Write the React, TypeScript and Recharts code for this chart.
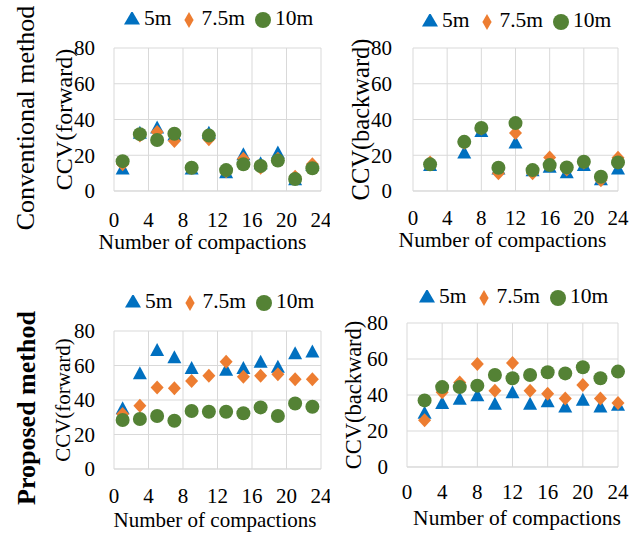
/** CCV vs number of compactions: conventional vs proposed method, forward and
 *  backward passes, three offsets (5m / 7.5m / 10m). Excel-like styling. */
import { CartesianGrid, Legend, Scatter, ScatterChart, XAxis, YAxis } from "recharts";

const SERIF = "Liberation Serif, Times New Roman, serif";
const BLUE = "#0070C0";
const ORANGE = "#ED7D31";
const GREEN = "#548235";
const GRID = "#D9D9D9";

const SERIES = ["5m", "7.5m", "10m"];
const X_TICKS = [0, 4, 8, 12, 16, 20, 24];
const Y_TICKS = [0, 20, 40, 60, 80];

// compaction numbers
const CONV_FWD_X = [1, 3, 5, 7, 9, 11, 13, 15, 17, 19, 21, 23];
const CONV_BWD_X = [2, 6, 8, 10, 12, 14, 16, 18, 20, 22, 24];
const PROP_FWD_X = [1, 3, 5, 7, 9, 11, 13, 15, 17, 19, 21, 23];
const PROP_BWD_X = [2, 4, 6, 8, 10, 12, 14, 16, 18, 20, 22, 24];

// conventional, forward
const CONV_FWD_5 = [12, 32, 35, 31, 12, 32, 10, 20, 15, 21, 6, 14];
const CONV_FWD_75 = [15, 31, 33, 28, 13, 29, 11, 18, 13, 18, 8, 15];
const CONV_FWD_10 = [16.7, 31.8, 28.5, 32, 13, 31, 11.7, 15, 14, 17, 6.7, 12.7];
// conventional, backward
const CONV_BWD_5 = [14, 21, 33, 12, 26.6, 11, 13, 10, 14, 6, 12];
const CONV_BWD_75 = [16, 27, 35, 10, 32.5, 10, 18.8, 12, 16, 6, 18.6];
const CONV_BWD_10 = [14.9, 27.5, 35.3, 13, 38, 11.7, 14.5, 13.2, 16.4, 8, 16];
// proposed, forward (5m at 11 is not visible)
const PROP_FWD_5 = [34.6, 54.9, 68.4, 64.2, 58, null, 57, 58, 61.6, 58.7, 66.5, 67.6];
const PROP_FWD_75 = [31.9, 36.7, 47.3, 46.8, 51, 54, 62.2, 53.5, 54, 54.9, 52, 52];
const PROP_FWD_10 = [28.4, 29, 30.7, 28, 33.6, 33.2, 33.2, 32.3, 35.7, 30.7, 38, 36.1];
// proposed, backward
const PROP_BWD_5 = [29.6, 35, 37.4, 39.3, 34.6, 41, 34.6, 36, 33, 36.8, 33, 34];
const PROP_BWD_75 = [26, 41.5, 47, 57.2, 42.4, 57.8, 42.4, 40.7, 38, 45.5, 38, 35.5];
const PROP_BWD_10 = [37, 44.4, 44.4, 45.2, 51.1, 49.3, 51.1, 52.6, 52, 55.4, 49.3, 53];

const pts = (xs: number[], ys: (number | null)[]) =>
  xs.map((x, i) => ({ x, y: ys[i] })).filter((p) => p.y != null);

const Tri = (p: any) => (
  <path d={`M${p.cx},${p.cy - 8} L${p.cx + 7},${p.cy + 5} L${p.cx - 7},${p.cy + 5} Z`} fill={BLUE} />
);
const Dia = (p: any) => (
  <path d={`M${p.cx},${p.cy - 7} L${p.cx + 6.5},${p.cy} L${p.cx},${p.cy + 7} L${p.cx - 6.5},${p.cy} Z`} fill={ORANGE} />
);
const Dot = (p: any) => <circle cx={p.cx} cy={p.cy} r={7} fill={GREEN} />;

type PanelProps = {
  left: number;
  top: number;
  width: number;
  height: number;
  margin: { top: number; right: number };
  yWidth: number;
  xHeight: number;
  yTitle: string;
  yTitleSize: number;
  yTitleDx: number;
  yTickMargin: number;
  xTickMargin: number;
  xTitleSize: number;
  xTitleOffset: number;
  xTitleDx: number;
  legendPos: { left: number; top: number };
  data: { x: number; y: number | null }[][];
};

function Panel(p: PanelProps) {
  const tick = { fontSize: 21, fill: "#000", fontFamily: SERIF };
  return (
    <div style={{ position: "absolute", left: p.left, top: p.top }}>
      <ScatterChart
        width={p.width}
        height={p.height}
        margin={{ top: p.margin.top, right: p.margin.right, left: 0, bottom: 0 }}
        style={{ fontFamily: SERIF }}
      >
        <CartesianGrid stroke={GRID} />
        <XAxis
          type="number"
          dataKey="x"
          domain={[0, 24]}
          ticks={X_TICKS}
          interval={0}
          height={p.xHeight}
          stroke={GRID}
          tickLine={false}
          tickSize={0}
          tickMargin={p.xTickMargin}
          tick={tick}
          label={{
            value: "Number of compactions",
            position: "insideBottom",
            offset: p.xTitleOffset,
            dx: p.xTitleDx,
            style: { fontSize: p.xTitleSize, fill: "#000", fontFamily: SERIF },
          }}
        />
        <YAxis
          type="number"
          dataKey="y"
          domain={[0, 80]}
          ticks={Y_TICKS}
          interval={0}
          width={p.yWidth}
          axisLine={false}
          tickLine={false}
          tickSize={0}
          tickMargin={p.yTickMargin}
          tick={tick}
          label={{
            value: p.yTitle,
            angle: -90,
            position: "center",
            dx: p.yTitleDx,
            style: { fontSize: p.yTitleSize, fill: "#000", fontFamily: SERIF, textAnchor: "middle" },
          }}
        />
        <Legend
          layout="horizontal"
          verticalAlign="middle"
          align="center"
          iconSize={16}
          itemSorter={(item: any) => SERIES.indexOf(item.value)}
          formatter={(v) => <span style={{ color: "#000" }}>{v}</span>}
          wrapperStyle={{
            left: p.legendPos.left,
            top: p.legendPos.top,
            width: "auto",
            fontSize: 21.5,
            fontFamily: SERIF,
            whiteSpace: "nowrap",
          }}
        />
        <Scatter name={SERIES[0]} data={p.data[0]} fill={BLUE} legendType="triangle" shape={Tri} isAnimationActive={false} />
        <Scatter name={SERIES[1]} data={p.data[1]} fill={ORANGE} legendType="diamond" shape={Dia} isAnimationActive={false} />
        <Scatter name={SERIES[2]} data={p.data[2]} fill={GREEN} legendType="circle" shape={Dot} isAnimationActive={false} />
      </ScatterChart>
    </div>
  );
}

function SideLabel({ text, x, y, bold }: { text: string; x: number; y: number; bold?: boolean }) {
  return (
    <div
      style={{
        position: "absolute",
        left: x,
        top: y,
        transform: "translate(-50%, -50%) rotate(-90deg)",
        whiteSpace: "nowrap",
        fontFamily: SERIF,
        fontSize: 26,
        fontWeight: bold ? "bold" : "normal",
        lineHeight: 1,
        color: "#000",
      }}
    >
      {text}
    </div>
  );
}

export default function App() {
  return (
    <div
      style={{
        position: "absolute",
        left: 0,
        top: 0,
        width: 643,
        height: 534,
        background: "#fff",
        overflow: "hidden",
        fontFamily: SERIF,
      }}
    >
      <SideLabel text="Conventional method" x={26} y={118} />
      <SideLabel text="Proposed method" x={27} y={408} bold />
      <Panel
        left={0}
        top={0}
        width={330}
        height={265}
        margin={{ top: 48, right: 9 }}
        yWidth={114}
        xHeight={74}
        yTitle="CCV(forward)"
        yTitleSize={24}
        yTitleDx={6}
        yTickMargin={19}
        xTickMargin={21}
        xTitleSize={21.5}
        xTitleOffset={16}
        xTitleDx={-15}
        legendPos={{ left: 124, top: 6 }}
        data={[pts(CONV_FWD_X, CONV_FWD_5), pts(CONV_FWD_X, CONV_FWD_75), pts(CONV_FWD_X, CONV_FWD_10)]}
      />
      <Panel
        left={320}
        top={0}
        width={323}
        height={265}
        margin={{ top: 48, right: 25 }}
        yWidth={93}
        xHeight={74}
        yTitle="CCV(backward)"
        yTitleSize={24.5}
        yTitleDx={-6.5}
        yTickMargin={21}
        xTickMargin={19}
        xTitleSize={21.5}
        xTitleOffset={18}
        xTitleDx={-13}
        legendPos={{ left: 102, top: 8 }}
        data={[pts(CONV_BWD_X, CONV_BWD_5), pts(CONV_BWD_X, CONV_BWD_75), pts(CONV_BWD_X, CONV_BWD_10)]}
      />
      <Panel
        left={0}
        top={270}
        width={330}
        height={264}
        margin={{ top: 61, right: 9 }}
        yWidth={114}
        xHeight={65}
        yTitle="CCV(forward)"
        yTitleSize={21}
        yTitleDx={6}
        yTickMargin={19}
        xTickMargin={19}
        xTitleSize={21}
        xTitleOffset={7}
        xTitleDx={-2.5}
        legendPos={{ left: 125, top: 19 }}
        data={[pts(PROP_FWD_X, PROP_FWD_5), pts(PROP_FWD_X, PROP_FWD_75), pts(PROP_FWD_X, PROP_FWD_10)]}
      />
      <Panel
        left={320}
        top={270}
        width={323}
        height={264}
        margin={{ top: 53, right: 25 }}
        yWidth={87}
        xHeight={67}
        yTitle="CCV(backward)"
        yTitleSize={22.5}
        yTitleDx={-10.5}
        yTickMargin={19}
        xTickMargin={17}
        xTitleSize={21.5}
        xTitleOffset={9}
        xTitleDx={4.5}
        legendPos={{ left: 99, top: 14 }}
        data={[pts(PROP_BWD_X, PROP_BWD_5), pts(PROP_BWD_X, PROP_BWD_75), pts(PROP_BWD_X, PROP_BWD_10)]}
      />
    </div>
  );
}
